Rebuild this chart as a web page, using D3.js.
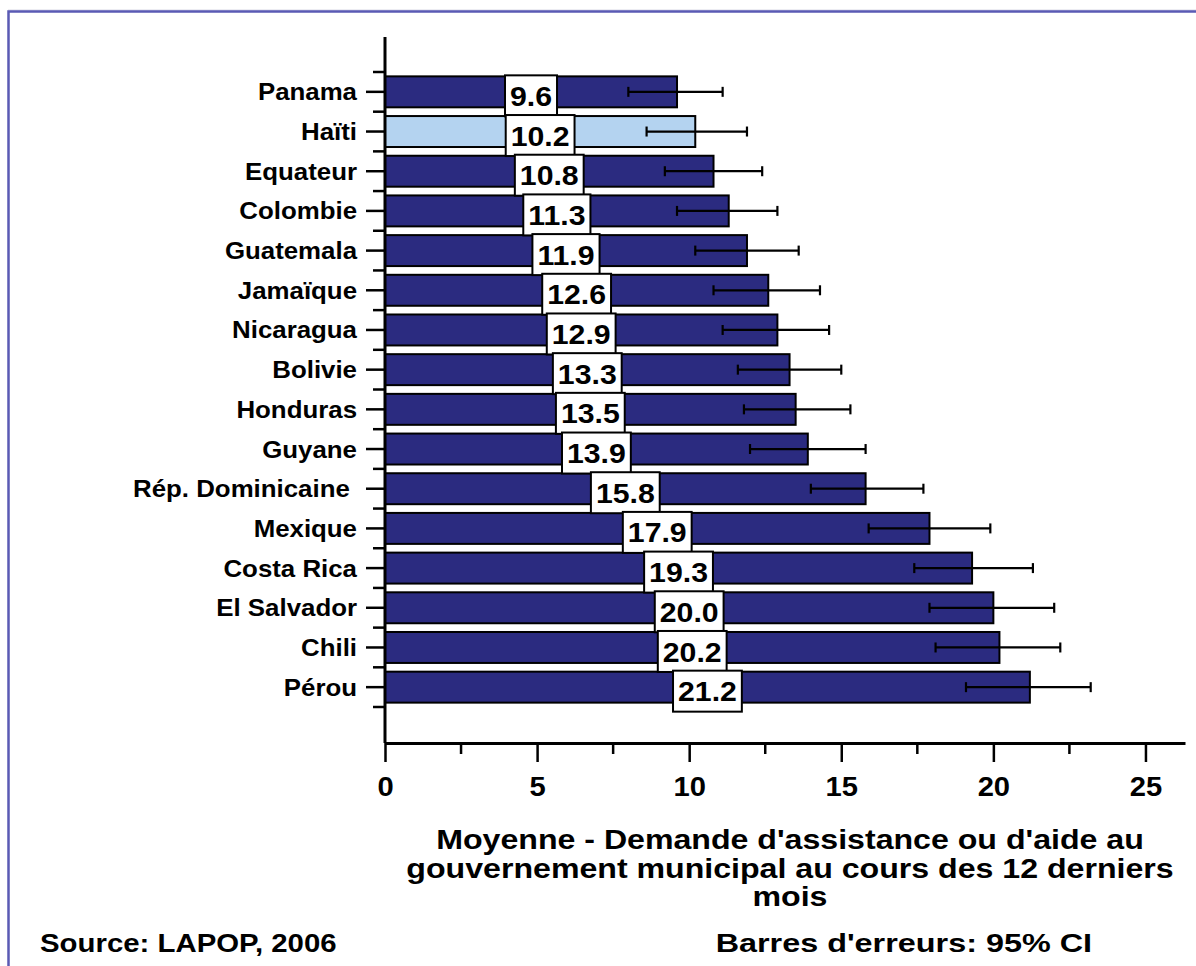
<!DOCTYPE html>
<html><head><meta charset="utf-8">
<script src="https://cdn.jsdelivr.net/npm/d3@7"></script>
<style>
html,body{margin:0;padding:0;background:#fff;}
svg{display:block;}
text{font-family:"Liberation Sans",Arial,sans-serif;font-weight:bold;fill:#000;}
</style></head>
<body>
<svg id="chart" width="1196" height="966"></svg>
<script>
const countries = ["Panama","Haïti","Equateur","Colombie","Guatemala","Jamaïque","Nicaragua","Bolivie","Honduras","Guyane","Rép. Dominicaine\u00a0","Mexique","Costa Rica","El Salvador","Chili","Pérou"];
const values = [9.6,10.2,10.8,11.3,11.9,12.6,12.9,13.3,13.5,13.9,15.8,17.9,19.3,20.0,20.2,21.2];
const ciLow  = [8.0,8.6,9.2,9.6,10.2,10.8,11.1,11.6,11.8,12.0,14.0,15.9,17.4,17.9,18.1,19.1];
const ciHigh = [11.1,11.9,12.4,12.9,13.6,14.3,14.6,15.0,15.3,15.8,17.7,19.9,21.3,22.0,22.2,23.2];
const highlighted = ["Haïti"];
const majorTicks = [0,5,10,15,20,25];
const minorTicks = [2.5,7.5,12.5,17.5,22.5];
const axisTitle = ["Moyenne - Demande d'assistance ou d'aide au","gouvernement municipal au cours des 12 derniers","mois"];
const sourceNote = "Source: LAPOP, 2006";
const errorNote = "Barres d'erreurs: 95% CI";

const data = countries.map((c,i)=>({c, v:values[i], lo:ciLow[i], hi:ciHigh[i]}));
const svg = d3.select("#chart");
const NAVY = "#2b2b80", LIGHT = "#b4d3f0";

// frame
svg.append("line").attr("x1",8).attr("y1",10).attr("x2",1196).attr("y2",10).attr("stroke","#d8d8e4").attr("stroke-width",1);
svg.append("path").attr("d","M8.5,966 L8.5,11.5 L1196,11.5").attr("fill","none").attr("stroke","#5a5ab4").attr("stroke-width",2.5);

const x = d3.scaleLinear().domain([0,26.3]).range([385,1185]);
const y = d3.scaleBand().domain(countries).range([72,707]).padding(0);
const step = y.step();
const barH = step*0.78;
const cy = c => y(c)+step/2;

// bars
svg.append("g").selectAll("rect").data(data).join("rect")
  .attr("x",x(0)).attr("y",d=>cy(d.c)-barH/2)
  .attr("width",d=>x(d.v)-x(0)).attr("height",barH)
  .attr("fill",d=>highlighted.includes(d.c)?LIGHT:NAVY)
  .attr("stroke","#000").attr("stroke-width",2);

// error bars
const eb = svg.append("g").attr("stroke","#000").attr("stroke-width",2.2);
eb.selectAll("line.main").data(data).join("line").attr("class","main")
  .attr("x1",d=>x(d.lo)).attr("x2",d=>x(d.hi)).attr("y1",d=>cy(d.c)).attr("y2",d=>cy(d.c));
eb.selectAll("line.capL").data(data).join("line").attr("class","capL")
  .attr("x1",d=>x(d.lo)).attr("x2",d=>x(d.lo)).attr("y1",d=>cy(d.c)-5).attr("y2",d=>cy(d.c)+5);
eb.selectAll("line.capR").data(data).join("line").attr("class","capR")
  .attr("x1",d=>x(d.hi)).attr("x2",d=>x(d.hi)).attr("y1",d=>cy(d.c)-5).attr("y2",d=>cy(d.c)+5);

// value labels
const SXV = 1.08;
const lab = svg.append("g").selectAll("g").data(data).join("g")
  .attr("transform",d=>`translate(${x(d.v/2)},${cy(d.c)+4})`);
lab.each(function(d){
  const g = d3.select(this);
  const rect = g.append("rect");
  const t = g.append("text").attr("text-anchor","middle").attr("dy","0.36em")
    .attr("font-size",28).attr("transform",`scale(${SXV},1)`).text(d.v.toFixed(1));
  const w = t.node().getComputedTextLength()*SXV + 10;
  rect.attr("x",-w/2).attr("y",-20.5).attr("width",w).attr("height",41)
    .attr("fill","#fff").attr("stroke","#000").attr("stroke-width",2);
});

// y axis
const ya = svg.append("g");
ya.append("line").attr("x1",385).attr("x2",385).attr("y1",37).attr("y2",743).attr("stroke","#000").attr("stroke-width",3);
const bounds = countries.map(c=>y(c)).concat([y(countries[countries.length-1])+step]);
ya.selectAll("line.b").data(bounds).join("line").attr("class","b")
  .attr("x1",373).attr("x2",385).attr("y1",d=>d).attr("y2",d=>d).attr("stroke","#000").attr("stroke-width",2.5);
ya.selectAll("line.c").data(countries).join("line").attr("class","c")
  .attr("x1",366).attr("x2",385).attr("y1",d=>cy(d)).attr("y2",d=>cy(d)).attr("stroke","#000").attr("stroke-width",2.5);
ya.selectAll("g.lbl").data(countries).join("g").attr("class","lbl")
  .attr("transform",d=>`translate(357,${cy(d)}) scale(1.1,1)`)
  .append("text").attr("text-anchor","end").attr("dy","0.36em").attr("font-size",23.5).text(d=>d);

// x axis
const xa = svg.append("g").attr("transform","translate(0,743)");
const axis = d3.axisBottom(x).tickValues(majorTicks).tickSize(19).tickSizeOuter(0).tickPadding(0).tickFormat(d3.format("d"));
xa.call(axis);
xa.select(".domain").attr("stroke","#000").attr("stroke-width",3);
xa.selectAll(".tick line").attr("stroke","#000").attr("stroke-width",2.5);
xa.selectAll(".tick text").attr("font-size",27).attr("font-family","Liberation Sans, Arial, sans-serif").attr("font-weight","bold")
  .attr("y",0).attr("dy","0").attr("transform","translate(0,53) scale(1.08,1)");
xa.selectAll("line.minor").data(minorTicks).join("line").attr("class","minor")
  .attr("x1",d=>x(d)).attr("x2",d=>x(d)).attr("y1",0).attr("y2",11).attr("stroke","#000").attr("stroke-width",2.5);

// axis title
const tt = svg.append("g").attr("transform","translate(790,0)");
tt.selectAll("g").data(axisTitle).join("g")
  .attr("transform",(d,i)=>`translate(0,${849+i*28.5}) scale(1.19,1)`)
  .append("text").attr("text-anchor","middle").attr("font-size",27).text(d=>d);

// footer
svg.append("g").attr("transform","translate(40,952) scale(1.13,1)")
  .append("text").attr("font-size",26).text(sourceNote);
svg.append("g").attr("transform","translate(1092,952) scale(1.245,1)")
  .append("text").attr("text-anchor","end").attr("font-size",26).text(errorNote);
</script>
</body></html>
